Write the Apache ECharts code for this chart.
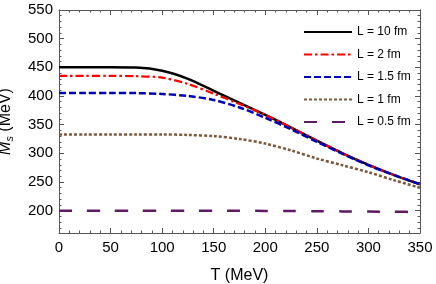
<!DOCTYPE html>
<html><head><meta charset="utf-8">
<script src="https://cdn.jsdelivr.net/npm/echarts@6/dist/echarts.min.js"></script>
<style>html,body{margin:0;padding:0;background:#fff}#c{width:436px;height:284px}</style>
</head><body><div id="c"></div>
<script>
const temps = [0,25,50,75,100,125,150,175,200,225,250,275,300,325,350];
const L10  = [450,450,450,449.5,444,430,409,388,367,345,322,300,280,262,246];
const L2   = [435,435,435,434.5,432,421,404,386,367,345,322,300,280,262,246];
const L15  = [405,405,405,405,403.5,400,393,380,362,342,320,299,279,262,246];
const L1   = [333,333,333,333,333,332,330,325,317,305,291,279,267,253,240];
const L05  = [200,200,200,200,200,200,200,199.8,199.5,199.2,199,198.7,198.4,198,197.7];
const seriesNames = ['L = 10 fm','L = 2 fm','L = 1.5 fm','L = 1 fm','L = 0.5 fm'];
const xTicks = [0,50,100,150,200,250,300,350];
const yTicks = [200,250,300,350,400,450,500,550];
const yMinor = [];
for (let v = 170; v <= 550; v += 10) if (v % 50 !== 0) yMinor.push(v);

const pair = arr => temps.map((t,i)=>[t,arr[i]]);
const FONT = 'Liberation Sans';
const axisCol = '#555';

const yBase = (pos, labels, tickVals, len) => ({
  type:'value', min:161, max:550, position:pos, gridIndex:0,
  axisLine:{show:true, onZero:false, lineStyle:{color:axisCol,width:1}},
  axisTick:{show:true, inside:true, length:len, customValues:tickVals, lineStyle:{color:axisCol}},
  axisLabel:labels ? {show:true, customValues:yTicks, color:'#000', fontSize:15, fontFamily:FONT, margin:6} : {show:false},
  splitLine:{show:false}
});

const lineSeries = (i, arr, color, width, type, z) => ({
  name:seriesNames[i], type:'line', data:pair(arr), smooth:0.3, showSymbol:false, symbol:'none', z:z,
  lineStyle:{color:color, width:width, type:type}, itemStyle:{color:color}
});

const option = {
  animation:false,
  grid:{left:59, right:16, top:10, bottom:51, outerBoundsMode:'none', containLabel:false},
  legend:{
    orient:'vertical', left:298, top:21, itemWidth:48, itemHeight:12, itemGap:10.5,
    textStyle:{fontSize:12, fontFamily:FONT, color:'#000'},
    itemStyle:{opacity:0},
    data:seriesNames
  },
  xAxis:[
    {type:'value', min:0, max:350, interval:50, position:'bottom',
     axisLine:{onZero:false, lineStyle:{color:axisCol}},
     axisTick:{inside:true, length:5, lineStyle:{color:axisCol}},
     minorTick:{show:true, splitNumber:5, length:2.5, lineStyle:{color:axisCol}},
     axisLabel:{color:'#000', fontSize:15, fontFamily:FONT, margin:7},
     splitLine:{show:false},
     name:'T (MeV)', nameLocation:'middle', nameGap:35,
     nameTextStyle:{fontSize:16, fontFamily:FONT, color:'#000'}},
    {type:'value', min:0, max:350, interval:50, position:'top',
     axisLine:{onZero:false, lineStyle:{color:axisCol}},
     axisTick:{inside:true, length:5, lineStyle:{color:axisCol}},
     minorTick:{show:true, splitNumber:5, length:2.5, lineStyle:{color:axisCol}},
     axisLabel:{show:false}, splitLine:{show:false}}
  ],
  yAxis:[
    Object.assign(yBase('left', true, yTicks, 5), {
      name:'{m|M}{s|s} (MeV)', nameLocation:'middle', nameGap:44,
      nameTextStyle:{fontSize:16, fontFamily:FONT, color:'#000',
        rich:{m:{fontSize:16, fontStyle:'italic', fontFamily:FONT, color:'#000'},
              s:{fontSize:11, fontStyle:'italic', fontFamily:FONT, color:'#000', padding:[7,0,0,0]}}}
    }),
    yBase('left', false, yMinor, 2.5),
    yBase('right', false, yTicks, 5),
    yBase('right', false, yMinor, 2.5)
  ],
  series:[
    lineSeries(0, L10, '#000', 2.5, 'solid', 5),
    lineSeries(1, L2, '#f00', 2.2, [8,3,2.5,3], 6),
    lineSeries(2, L15, '#0000b4', 2.5, [7,3], 7),
    lineSeries(3, L1, '#7a5a3c', 2.5, [3,2], 4),
    lineSeries(4, L05, '#5e1a62', 2.5, [13,15], 4)
  ]
};
const chart = echarts.init(document.getElementById('c'), null, {renderer:'canvas'});
chart.setOption(option);
</script></body></html>
